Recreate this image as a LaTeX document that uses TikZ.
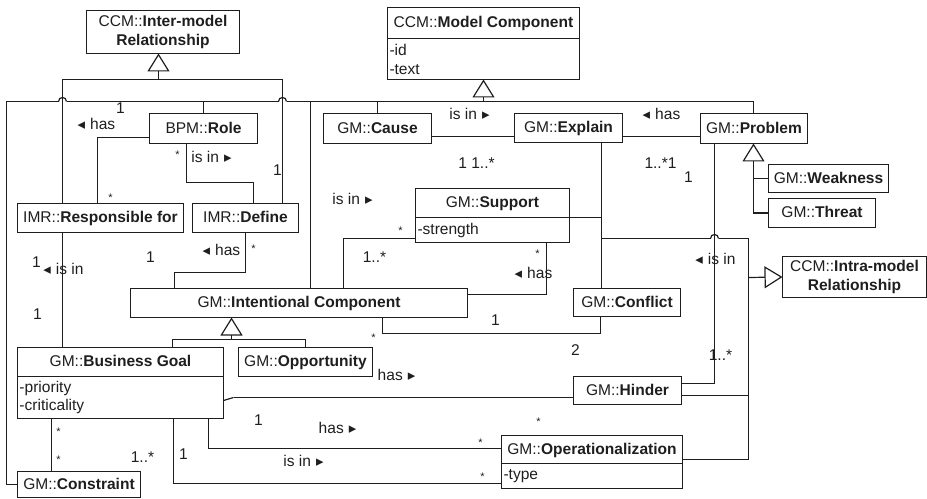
\documentclass[tikz,border=0pt]{standalone}
\usepackage{fontspec}
\setmainfont{Liberation Sans}
\newfontfamily\symfont{DejaVu Sans}
\usetikzlibrary{arrows.meta}
\definecolor{ln}{RGB}{30,30,30}
\newcommand{\trileft}{{\symfont\fontsize{15}{15}\selectfont ◂}\hspace{5pt}}
\newcommand{\triright}{\hspace{5pt}{\symfont\fontsize{15}{15}\selectfont ▸}}
\begin{document}
\begin{tikzpicture}[x=1bp,y=-1bp,color=ln,line width=1.2bp,
  every node/.style={font=\fontsize{15.6}{19}\selectfont},
  box/.style={draw, line width=1.2bp, inner sep=0pt, outer sep=0pt},
  one/.style={box, text height=11.5pt, text depth=1.5pt},
  two/.style={box, align=center},
  attr/.style={box, align=left},
  lbl/.style={inner sep=0pt},
  st/.style={inner sep=0pt, font=\fontsize{11}{11}\selectfont},
  gen/.style={-{Triangle[open,length=18bp,width=22bp]}}
]
\useasboundingbox (0,0) rectangle (927,499);
\begin{scope}[shift={(0.5,0.5)}]
% ---------- classes ----------
\node[two, minimum width=153bp, minimum height=43bp] (imr) at (162.5,31.5) {CCM::\textbf{Inter-model}\\\textbf{Relationship}};
\node[one, minimum width=192bp, minimum height=31bp] (mc) at (483,22.5) {CCM::\textbf{Model Component}};
\node[attr, minimum width=192bp, minimum height=41bp, text width=188bp] (mca) at (483,58.5) {-id\\-text};
\node[one, minimum width=108bp, minimum height=30bp] (role) at (203,128) {BPM::\textbf{Role}};
\node[one, minimum width=108bp, minimum height=30bp] (cause) at (377,128) {GM::\textbf{Cause}};
\node[one, minimum width=108bp, minimum height=29bp] (explain) at (568,127.5) {GM::\textbf{Explain}};
\node[one, minimum width=107bp, minimum height=30bp] (problem) at (753.5,128) {GM::\textbf{Problem}};
\node[one, minimum width=120bp, minimum height=28bp] (weakness) at (828,178) {GM::\textbf{Weakness}};
\node[one, minimum width=107bp, minimum height=29bp] (threat) at (821.5,212.5) {GM::\textbf{Threat}};
\node[one, minimum width=166bp, minimum height=29bp] (resp) at (100,217.5) {IMR::\textbf{Responsible for}};
\node[one, minimum width=106bp, minimum height=29bp] (define) at (245,217.5) {IMR::\textbf{Define}};
\node[one, minimum width=154bp, minimum height=29bp] (sup) at (492,202.5) {GM::\textbf{Support}};
\node[attr, minimum width=154bp, minimum height=25bp, text width=150bp] (supa) at (492,229.5) {-strength};
\node[one, minimum width=337bp, minimum height=29bp] (ic) at (298.5,302.5) {GM::\textbf{Intentional Component}};
\node[one, minimum width=107bp, minimum height=28bp] (conflict) at (626.5,302) {GM::\textbf{Conflict}};
\node[two, minimum width=144bp, minimum height=41bp] (intra) at (854,276.5) {CCM::\textbf{Intra-model}\\\textbf{Relationship}};
\node[one, minimum width=206bp, minimum height=29bp] (bg) at (120,361.5) {GM::\textbf{Business Goal}};
\node[attr, minimum width=206bp, minimum height=42bp, text width=202bp] (bga) at (120,397) {-priority\\-criticality};
\node[one, minimum width=134bp, minimum height=29bp] (opp) at (305,361.5) {GM::\textbf{Opportunity}};
\node[one, minimum width=108bp, minimum height=28bp] (hinder) at (627,390) {GM::\textbf{Hinder}};
\node[one, minimum width=181bp, minimum height=28bp] (op) at (591.5,449) {GM::\textbf{Operationalization}};
\node[attr, minimum width=181bp, minimum height=25bp, text width=177bp] (opa) at (591.5,475.5) {-type};
\node[one, minimum width=123bp, minimum height=26bp] (constraint) at (78.5,484) {GM::\textbf{Constraint}};

% ---------- bend points ----------
\coordinate (imrJ) at (158,79);
\coordinate (xL) at (62,79);
\coordinate (xR) at (282,79);
\coordinate (mcJ) at (483,101);
\coordinate (hL) at (6,101);
\coordinate (hop1) at (58,101);
\coordinate (hop1e) at (66,101);
\coordinate (hop2) at (278,101);
\coordinate (hop2e) at (286,101);
\coordinate (hR) at (753,101);
\coordinate (icTop) at (310,101);
\coordinate (rA) at (97,137);
\coordinate (rB) at (186,182);
\coordinate (rC) at (253,182);
\coordinate (dA) at (245,272);
\coordinate (dB) at (174,272);
\coordinate (eA) at (0,136);
\coordinate (sA) at (343,238);
\coordinate (sB) at (546,294);
\coordinate (iS) at (601,238);
\coordinate (hop3) at (710,238);
\coordinate (hop3e) at (718,238);
\coordinate (iA) at (748,238);
\coordinate (iB) at (748,459);
\coordinate (iC) at (748,395);
\coordinate (iT) at (748,277);
\coordinate (pA) at (714,383);
\coordinate (pJ) at (753,161);
\coordinate (cA) at (382,333);
\coordinate (cB) at (600,333);
\coordinate (icJ) at (231,339);
\coordinate (gA) at (172,339);
\coordinate (bA) at (0,400);
\coordinate (hA) at (233,397);
\coordinate (oA) at (208,448);
\coordinate (oB) at (173,483);
\coordinate (kA) at (51,0);

% ---------- generalisations ----------
\draw[gen] (imrJ) -- (imr.south -| imrJ);
\draw (resp.north -| xL) |- (imrJ) -| (define.north -| xR);

\draw[gen] (mcJ) -- (mca.south -| mcJ);
\draw (constraint.west) -| (hL) -- (hop1);
\draw (hop1) .. controls +(0,-5.3) and +(0,-5.3) .. (hop1e);
\draw (hop1e) -- (hop2);
\draw (hop2) .. controls +(0,-5.3) and +(0,-5.3) .. (hop2e);
\draw (hop2e) -- (hR) -- (problem.north -| hR);
\draw (role.north |- hL) -- (role.north);
\draw (icTop) -- (ic.north -| icTop);
\draw (cause.north |- hL) -- (cause.north);

\draw[gen] (pJ) -- (problem.south -| pJ);
\draw (pJ) |- (threat.west);
\draw (pJ |- weakness.west) -- (weakness.west);

\draw[gen] (icJ) -- (ic.south -| icJ);
\draw (bg.north -| gA) |- (icJ) -| (opp.north);

\draw (explain.south -| iS) -- (conflict.north -| iS);
\draw (sup.south east) -- (sup.south east -| iS);
\draw (iS) -- (hop3);
\draw (hop3) .. controls +(0,-5.3) and +(0,-5.3) .. (hop3e);
\draw (hop3e) -- (iA) -- (iB) -- (op.east |- iB);
\draw (hinder.east |- iC) -- (iC);
\draw[gen] (iT) -- (intra.west);

% ---------- associations ----------
\draw (role.west |- rA) -| (resp.north -| rA);
\draw (role.south -| rB) -- (rB) -- (rC) -- (define.north -| rC);
\draw (resp.south -| xL) -- (bg.north -| xL);
\draw (define.south -| dA) -- (dA) -- (dB) -- (ic.north -| dB);
\draw (cause.east |- eA) -- (explain.west |- eA);
\draw (explain.east |- eA) -- (problem.west |- eA);
\draw (supa.west |- sA) -| (ic.north -| sA);
\draw (supa.south -| sB) |- (ic.east |- sB);
\draw (problem.south -| pA) |- (hinder.east |- pA);
\draw (ic.south -| cA) -- (cA) -- (cB) -- (conflict.south -| cB);
\draw (bga.east |- bA) -- (hA);
\draw (hA) -- (hinder.west |- hA);
\draw (bga.south -| oA) |- (op.west |- oA);
\draw (bga.south -| oB) |- (opa.west |- oB);
\draw (bga.south -| kA) -- (constraint.north -| kA);

% ---------- labels ----------
\node[lbl] (l1) at (96,123) {\trileft has};
\node[lbl] (l2) at (120,108) {1};
\node[st] (l3) at (177,154.5) {*};
\node[lbl] (l4) at (211,156) {is in\triright};
\node[lbl] (l5) at (277,170) {1};
\node[st] (l6) at (110,197.5) {*};
\node[lbl] (l7) at (36,262) {1};
\node[lbl] (l8) at (63,268) {\trileft is in};
\node[lbl] (l9) at (37,314) {1};
\node[lbl] (l10) at (221,249) {\trileft has};
\node[st] (l11) at (253,248.5) {*};
\node[lbl] (l12) at (150,257) {1};
\node[lbl] (l13) at (469,113) {is in\triright};
\node[lbl] (l14) at (476,163) {1 1..*};
\node[lbl] (l15) at (661,113) {\trileft has};
\node[lbl] (l16) at (660,163) {1..*1};
\node[lbl] (l17) at (688,177) {1};
\node[lbl] (l18) at (352,198) {is in\triright};
\node[st] (l19) at (400,230.5) {*};
\node[lbl] (l20) at (374,257) {1..*};
\node[st] (l21) at (537,253.5) {*};
\node[lbl] (l22) at (533,272) {\trileft has};
\node[lbl] (l23) at (715,258) {\trileft is in};
\node[st] (l24) at (373,337.5) {*};
\node[lbl] (l25) at (495,320) {1};
\node[lbl] (l26) at (575,350) {2};
\node[lbl] (l27) at (720,355) {1..*};
\node[lbl] (l28) at (396,374) {has\triright};
\node[lbl] (l29) at (258,420) {1};
\node[lbl] (l30) at (337,427) {has\triright};
\node[st] (l31) at (480,442.5) {*};
\node[st] (l32) at (538,421.5) {*};
\node[lbl] (l33) at (183,454) {1};
\node[lbl] (l34) at (303,460) {is in\triright};
\node[st] (l35) at (482,476.5) {*};
\node[st] (l36) at (58,431.5) {*};
\node[st] (l37) at (58,459.5) {*};
\node[lbl] (l38) at (142,457) {1..*};
\end{scope}
\end{tikzpicture}
\end{document}
